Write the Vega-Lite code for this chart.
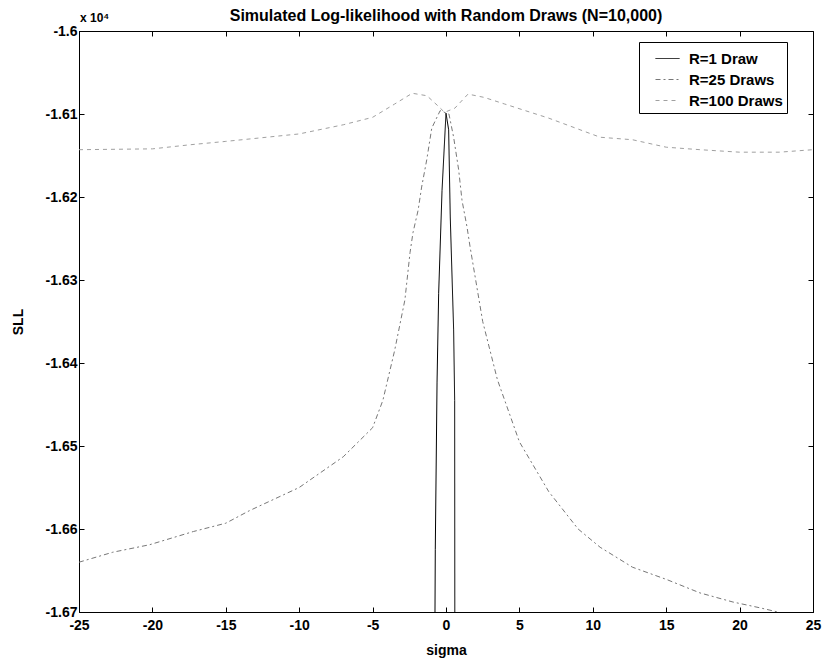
{
  "$schema": "https://vega.github.io/schema/vega-lite/v6.json",
  "width": 734,
  "height": 581,
  "autosize": {"type": "none"},
  "padding": {"left": 79, "top": 31, "right": 10, "bottom": 52},
  "background": "white",
  "config": {
    "font": "Liberation Sans",
    "view": {"stroke": "black", "strokeWidth": 1},
    "axis": {
      "domainColor": "black",
      "tickColor": "black",
      "labelColor": "black",
      "titleColor": "black",
      "labelFont": "Liberation Sans",
      "titleFont": "Liberation Sans",
      "labelFontSize": 14,
      "labelFontWeight": "bold",
      "titleFontSize": 14,
      "titleFontWeight": "bold",
      "grid": false
    },
    "legend": {
      "orient": "none",
      "legendX": 560,
      "legendY": 11,
      "strokeColor": "black",
      "fillColor": "white",
      "padding": 4,
      "symbolOffset": 12,
      "symbolType": "stroke",
      "symbolSize": 576,
      "symbolStrokeWidth": 1,
      "labelFont": "Liberation Sans",
      "labelFontSize": 15,
      "labelFontWeight": "bold",
      "labelColor": "black",
      "rowPadding": 0,
      "labelOffset": 9
    }
  },
  "title": {
    "text": "Simulated Log-likelihood with Random Draws (N=10,000)",
    "font": "Liberation Sans",
    "fontSize": 16,
    "fontWeight": "bold",
    "color": "black",
    "anchor": "middle",
    "offset": -12
  },
  "data": {
    "values": [
      {"series": "R=1 Draw", "sigma": -0.75, "sll": -16700},
      {"series": "R=1 Draw", "sigma": -0.73, "sll": -16625},
      {"series": "R=1 Draw", "sigma": -0.61, "sll": -16423},
      {"series": "R=1 Draw", "sigma": -0.5, "sll": -16316},
      {"series": "R=1 Draw", "sigma": -0.27, "sll": -16192},
      {"series": "R=1 Draw", "sigma": 0, "sll": -16099},
      {"series": "R=1 Draw", "sigma": 0.18, "sll": -16119},
      {"series": "R=1 Draw", "sigma": 0.29, "sll": -16224},
      {"series": "R=1 Draw", "sigma": 0.52, "sll": -16360},
      {"series": "R=1 Draw", "sigma": 0.59, "sll": -16445},
      {"series": "R=1 Draw", "sigma": 0.6, "sll": -16700},

      {"series": "R=25 Draws", "sigma": -25, "sll": -16640},
      {"series": "R=25 Draws", "sigma": -22.7, "sll": -16628},
      {"series": "R=25 Draws", "sigma": -20.2, "sll": -16619},
      {"series": "R=25 Draws", "sigma": -17.2, "sll": -16603},
      {"series": "R=25 Draws", "sigma": -15, "sll": -16593},
      {"series": "R=25 Draws", "sigma": -13.4, "sll": -16578},
      {"series": "R=25 Draws", "sigma": -10, "sll": -16550},
      {"series": "R=25 Draws", "sigma": -7, "sll": -16513},
      {"series": "R=25 Draws", "sigma": -5, "sll": -16478},
      {"series": "R=25 Draws", "sigma": -4.3, "sll": -16445},
      {"series": "R=25 Draws", "sigma": -3.5, "sll": -16385},
      {"series": "R=25 Draws", "sigma": -2.8, "sll": -16324},
      {"series": "R=25 Draws", "sigma": -2.45, "sll": -16267},
      {"series": "R=25 Draws", "sigma": -2.25, "sll": -16243},
      {"series": "R=25 Draws", "sigma": -1.9, "sll": -16216},
      {"series": "R=25 Draws", "sigma": -1.66, "sll": -16188},
      {"series": "R=25 Draws", "sigma": -1.31, "sll": -16155},
      {"series": "R=25 Draws", "sigma": -0.97, "sll": -16117},
      {"series": "R=25 Draws", "sigma": -0.4, "sll": -16096},
      {"series": "R=25 Draws", "sigma": 0.2, "sll": -16100},
      {"series": "R=25 Draws", "sigma": 0.52, "sll": -16128},
      {"series": "R=25 Draws", "sigma": 0.86, "sll": -16167},
      {"series": "R=25 Draws", "sigma": 1.09, "sll": -16204},
      {"series": "R=25 Draws", "sigma": 1.43, "sll": -16236},
      {"series": "R=25 Draws", "sigma": 1.64, "sll": -16260},
      {"series": "R=25 Draws", "sigma": 2.5, "sll": -16350},
      {"series": "R=25 Draws", "sigma": 3.5, "sll": -16420},
      {"series": "R=25 Draws", "sigma": 5, "sll": -16495},
      {"series": "R=25 Draws", "sigma": 7, "sll": -16555},
      {"series": "R=25 Draws", "sigma": 9, "sll": -16600},
      {"series": "R=25 Draws", "sigma": 10.5, "sll": -16622},
      {"series": "R=25 Draws", "sigma": 12.7, "sll": -16646},
      {"series": "R=25 Draws", "sigma": 15.05, "sll": -16661},
      {"series": "R=25 Draws", "sigma": 17.3, "sll": -16677},
      {"series": "R=25 Draws", "sigma": 19.55, "sll": -16688},
      {"series": "R=25 Draws", "sigma": 21.4, "sll": -16695},
      {"series": "R=25 Draws", "sigma": 22.6, "sll": -16700},

      {"series": "R=100 Draws", "sigma": -25, "sll": -16143},
      {"series": "R=100 Draws", "sigma": -20, "sll": -16142},
      {"series": "R=100 Draws", "sigma": -17.4, "sll": -16137},
      {"series": "R=100 Draws", "sigma": -15, "sll": -16133},
      {"series": "R=100 Draws", "sigma": -10, "sll": -16124},
      {"series": "R=100 Draws", "sigma": -7, "sll": -16113},
      {"series": "R=100 Draws", "sigma": -5, "sll": -16104},
      {"series": "R=100 Draws", "sigma": -3.5, "sll": -16088},
      {"series": "R=100 Draws", "sigma": -2.3, "sll": -16075},
      {"series": "R=100 Draws", "sigma": -1.3, "sll": -16078},
      {"series": "R=100 Draws", "sigma": -0.5, "sll": -16091},
      {"series": "R=100 Draws", "sigma": -0.1, "sll": -16098},
      {"series": "R=100 Draws", "sigma": 0.6, "sll": -16093},
      {"series": "R=100 Draws", "sigma": 1.5, "sll": -16076},
      {"series": "R=100 Draws", "sigma": 2.6, "sll": -16080},
      {"series": "R=100 Draws", "sigma": 4, "sll": -16088},
      {"series": "R=100 Draws", "sigma": 7, "sll": -16105},
      {"series": "R=100 Draws", "sigma": 10.5, "sll": -16128},
      {"series": "R=100 Draws", "sigma": 12.7, "sll": -16131},
      {"series": "R=100 Draws", "sigma": 15, "sll": -16140},
      {"series": "R=100 Draws", "sigma": 17.3, "sll": -16143},
      {"series": "R=100 Draws", "sigma": 20, "sll": -16146},
      {"series": "R=100 Draws", "sigma": 22.7, "sll": -16146},
      {"series": "R=100 Draws", "sigma": 25, "sll": -16143}
    ]
  },
  "layer": [
    {
      "mark": {"type": "line", "strokeWidth": 1, "clip": true},
      "encoding": {
        "x": {
          "field": "sigma", "type": "quantitative",
          "scale": {"domain": [-25, 25], "nice": false, "zero": false},
          "axis": {
            "orient": "bottom", "title": "sigma", "values": [-25, -20, -15, -10, -5, 0, 5, 10, 15, 20, 25],
            "tickSize": -5, "labelPadding": 11, "labelFlush": false, "labelOverlap": false,
            "labelExpr": "replace(datum.label, '\u2212', '-')", "titlePadding": 11
          }
        },
        "y": {
          "field": "sll", "type": "quantitative",
          "scale": {"domain": [-16700, -16000], "nice": false, "zero": false},
          "axis": {
            "orient": "left", "title": "SLL", "values": [-16700, -16600, -16500, -16400, -16300, -16200, -16100, -16000],
            "tickSize": -5, "labelPadding": 7, "labelFlush": false, "labelOverlap": false,
            "labelExpr": "'-' + format(-datum.value / 10000, '.2~f')", "titlePadding": 20
          }
        },
        "color": {
          "field": "series", "type": "nominal", "title": null,
          "scale": {"domain": ["R=1 Draw", "R=25 Draws", "R=100 Draws"], "range": ["#000000", "#777777", "#a0a0a0"]}
        },
        "strokeDash": {
          "field": "series", "type": "nominal", "title": null,
          "scale": {"domain": ["R=1 Draw", "R=25 Draws", "R=100 Draws"], "range": [[1, 0], [5, 3, 2, 3], [4, 4]]}
        }
      }
    },
    {
      "mark": {"type": "point", "opacity": 0},
      "encoding": {
        "x": {
          "field": "sigma", "type": "quantitative",
          "axis": {"orient": "top", "title": null, "labels": false, "domain": false, "values": [-25, -20, -15, -10, -5, 0, 5, 10, 15, 20, 25], "tickSize": -5}
        },
        "y": {
          "field": "sll", "type": "quantitative",
          "axis": {"orient": "right", "title": null, "labels": false, "domain": false, "values": [-16700, -16600, -16500, -16400, -16300, -16200, -16100, -16000], "tickSize": -5}
        }
      }
    },
    {
      "data": {"values": [{"t": "x 10\u2074"}]},
      "mark": {"type": "text", "align": "left", "baseline": "alphabetic", "dx": 1, "dy": -9, "fontSize": 12, "fontWeight": "bold", "font": "Liberation Sans", "color": "black", "clip": false},
      "encoding": {
        "x": {"datum": -25, "type": "quantitative", "axis": null},
        "y": {"datum": -16000, "type": "quantitative", "axis": null},
        "text": {"field": "t", "type": "nominal"}
      }
    }
  ],
  "resolve": {"axis": {"x": "independent", "y": "independent"}}
}
